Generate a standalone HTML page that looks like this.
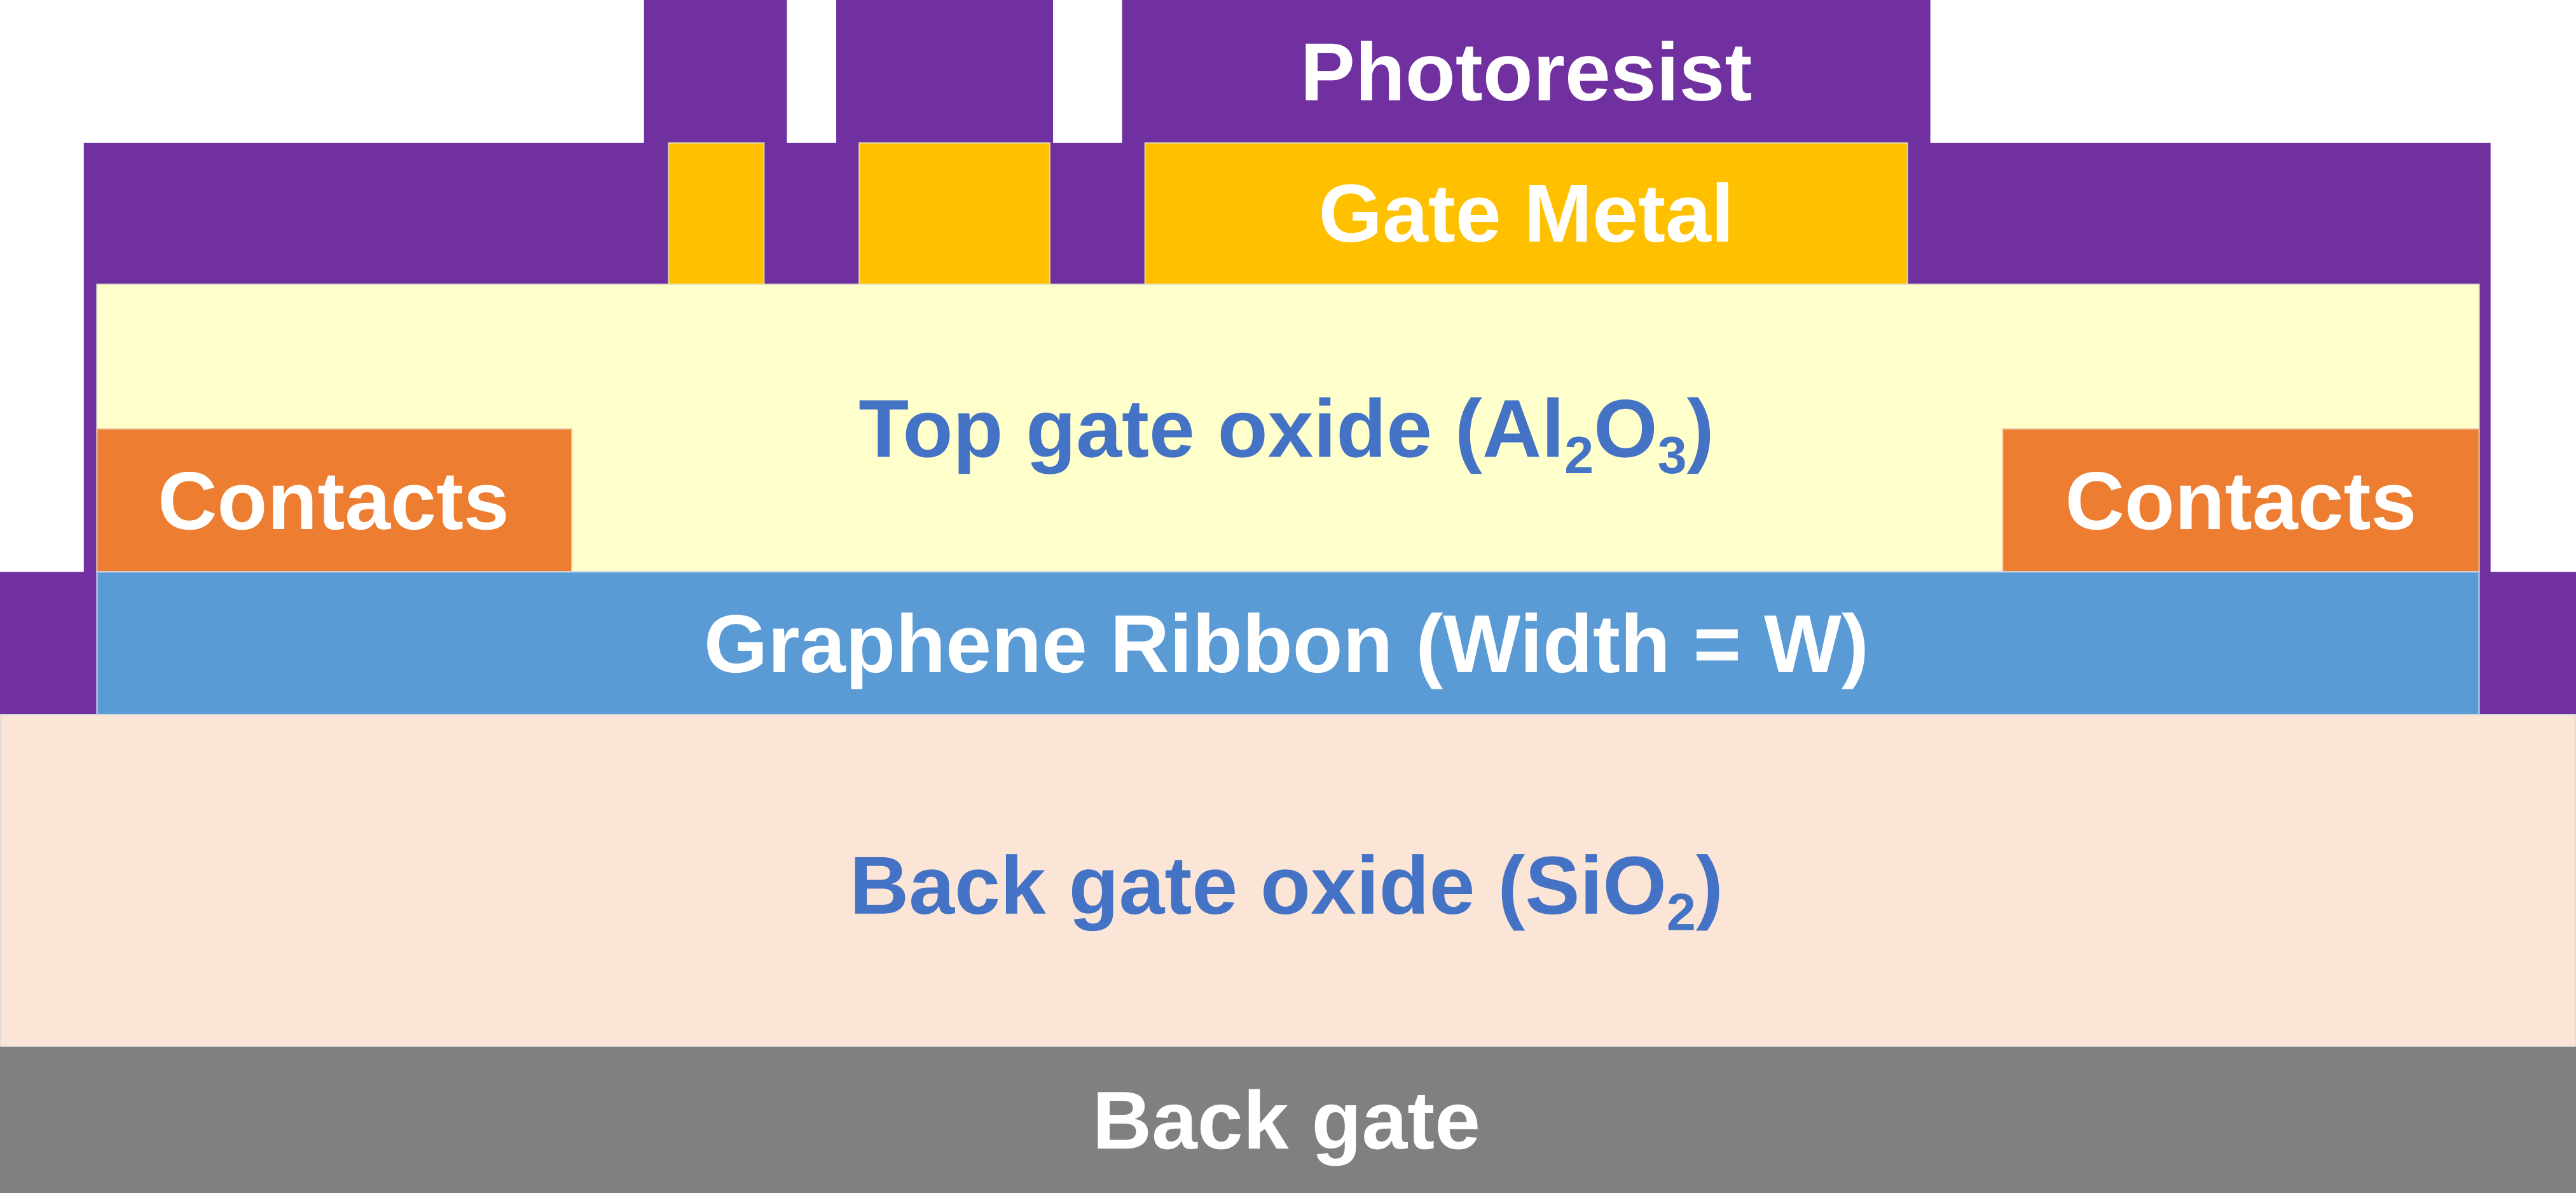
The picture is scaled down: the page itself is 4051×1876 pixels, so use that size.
<!DOCTYPE html>
<html><head><meta charset="utf-8"><style>
html,body{margin:0;padding:0;background:#fff;}
svg{display:block;}
text{font-family:"Liberation Sans",sans-serif;font-weight:bold;}
</style></head><body>
<svg width="4051" height="1876" viewBox="0 0 1568 726" preserveAspectRatio="none">
  <g fill="#7030A0">
    <rect x="392" y="0" width="87" height="90"/>
    <rect x="509" y="0" width="132" height="90"/>
    <rect x="683" y="0" width="492" height="90"/>
    <rect x="51" y="87" width="1465" height="262"/>
    <rect x="0" y="348" width="1568" height="88"/>
  </g>
  <g fill="#FFC000" stroke="#e0d9a0" stroke-width="0.8">
    <rect x="407" y="87" width="58" height="86"/>
    <rect x="523" y="87" width="116" height="86"/>
    <rect x="697" y="87" width="464" height="86"/>
  </g>
  <rect x="59" y="173" width="1450" height="175" fill="#FFFFCC" stroke="#e6e6c8" stroke-width="0.8"/>
  <rect x="59" y="261" width="289" height="87" fill="#ED7D31" stroke="#f0c8a8" stroke-width="0.8"/>
  <rect x="1219" y="261" width="290" height="87" fill="#ED7D31" stroke="#f0c8a8" stroke-width="0.8"/>
  <rect x="59" y="348" width="1450" height="87" fill="#5B9BD5" stroke="#c8d8ea" stroke-width="0.8"/>
  <rect x="0" y="435" width="1568" height="202" fill="#FBE5D6" stroke="#d8d8d8" stroke-width="0.8"/>
  <rect x="0" y="637" width="1568" height="89" fill="#808080"/>

  <text x="929" y="61" text-anchor="middle" font-size="50" fill="#fff">Photoresist</text>
  <text x="929" y="147" text-anchor="middle" font-size="50" fill="#fff">Gate Metal</text>
  <text x="783" y="278" text-anchor="middle" font-size="50" fill="#4472C4">Top gate oxide (Al<tspan font-size="32" dy="10">2</tspan><tspan dy="-10">O</tspan><tspan font-size="32" dy="10">3</tspan><tspan dy="-10">)</tspan></text>
  <text x="203" y="322" text-anchor="middle" font-size="50" fill="#fff">Contacts</text>
  <text x="1364" y="322" text-anchor="middle" font-size="50" fill="#fff">Contacts</text>
  <text x="783" y="409" text-anchor="middle" font-size="50" fill="#fff">Graphene Ribbon (Width = W)</text>
  <text x="783" y="556" text-anchor="middle" font-size="50" fill="#4472C4">Back gate oxide (SiO<tspan font-size="32" dy="10">2</tspan><tspan dy="-10">)</tspan></text>
  <text x="783" y="699" text-anchor="middle" font-size="50" fill="#fff">Back gate</text>
</svg>
</body></html>
